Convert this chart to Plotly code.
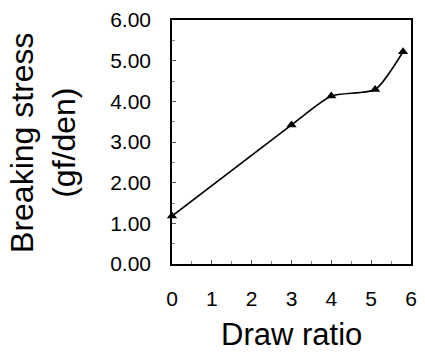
import plotly.graph_objects as go

draw_ratio = [0, 3.0, 4.0, 5.1, 5.8]
breaking_stress = [1.18, 3.42, 4.13, 4.29, 5.22]

y_ticks = [0, 1, 2, 3, 4, 5, 6]
y_tick_labels = ["0.00", "1.00", "2.00", "3.00", "4.00", "5.00", "6.00"]
x_ticks = [0, 1, 2, 3, 4, 5, 6]

FONT = "Liberation Sans, Arial, sans-serif"

fig = go.Figure()
fig.add_trace(go.Scatter(
    x=draw_ratio, y=breaking_stress,
    mode="lines+markers",
    line=dict(color="black", width=1.6, shape="spline", smoothing=0.6),
    marker=dict(symbol="triangle-up", size=9, color="black"),
    cliponaxis=False,
    showlegend=False,
))

axis_common = dict(
    showgrid=False, zeroline=False,
    showline=True, linecolor="black", linewidth=1.5, mirror=True,
    ticks="inside", ticklen=4, tickcolor="#555", tickwidth=1,
    tickfont=dict(family=FONT, size=21, color="black"),
    minor=dict(ticks="inside", ticklen=3, tickcolor="#888", dtick=0.5),
)

fig.update_xaxes(range=[0, 6], tickvals=x_ticks, ticklabelstandoff=15, **axis_common)
fig.update_yaxes(range=[0, 6], tickvals=y_ticks, ticktext=y_tick_labels,
                 ticklabelstandoff=15, **axis_common)

fig.add_annotation(
    text="Breaking stress<br>(gf/den)", textangle=-90,
    xref="paper", yref="paper", x=-0.54, y=0.5,
    xanchor="center", yanchor="middle", showarrow=False,
    font=dict(family=FONT, size=32, color="black"),
)
fig.add_annotation(
    text="Draw ratio",
    xref="paper", yref="paper", x=0.5, y=-0.288,
    xanchor="center", yanchor="middle", showarrow=False,
    borderpad=0,
    font=dict(family=FONT, size=31, color="black"),
)

fig.update_layout(
    width=425, height=353,
    margin=dict(l=172, r=8, t=20, b=89),
    paper_bgcolor="white", plot_bgcolor="white",
)

fig.write_html("out.html")
